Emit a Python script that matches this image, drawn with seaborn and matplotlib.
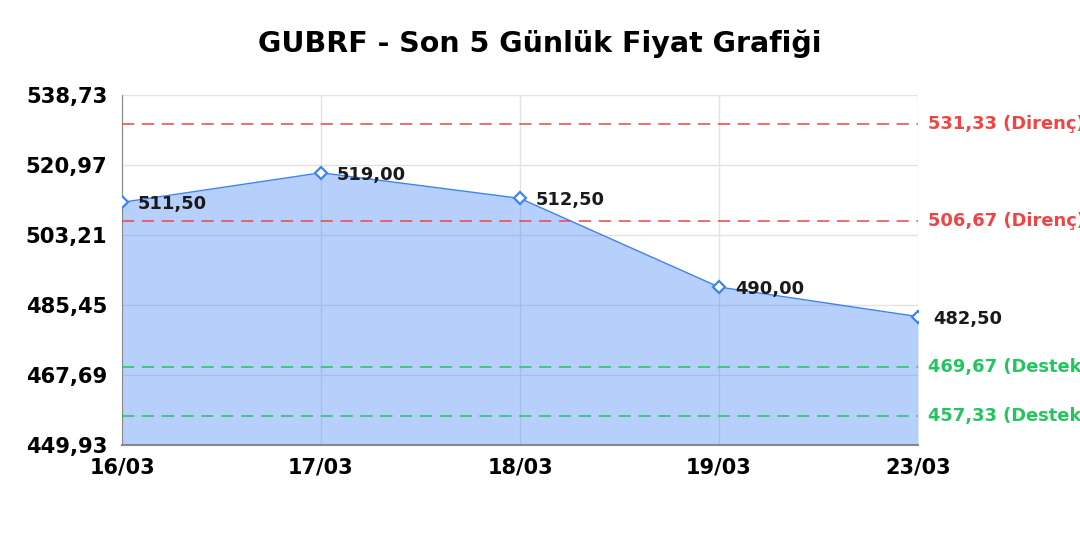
import matplotlib
matplotlib.use("Agg")
import matplotlib.pyplot as plt
import seaborn as sns
import pandas as pd

# price data
dates = ["16/03", "17/03", "18/03", "19/03", "23/03"]
prices = [511.50, 519.00, 512.50, 490.00, 482.50]
resistance = [531.33, 506.67]
support = [469.67, 457.33]
y_ticks = [449.93, 467.69, 485.45, 503.21, 520.97, 538.73]

def tr(v):
    # turkish decimal comma
    return f"{v:.2f}".replace(".", ",")

df = pd.DataFrame({"Tarih": dates, "Fiyat": prices})
df["pos"] = range(len(df))

sns.set_style("white")
plt.rcParams["font.family"] = ["DejaVu Sans"]
plt.rcParams["text.color"] = "black"

fig = plt.figure(figsize=(10.8, 5.4), dpi=100)
ax = fig.add_axes([122 / 1080, 1 - 445 / 540, (918 - 122) / 1080, (445 - 95) / 540])

line_col = "#3b82f6"
ax.fill_between(df["pos"], df["Fiyat"], y_ticks[0], color=line_col, alpha=0.37,
                lw=0, zorder=1)
sns.lineplot(data=df, x="pos", y="Fiyat", ax=ax, color=line_col, linewidth=1.0,
             marker="D", markersize=6, markerfacecolor="white",
             markeredgecolor=line_col, markeredgewidth=1.6, zorder=4)

for x, y in zip(df["pos"], df["Fiyat"]):
    dx = 0.08 if x < len(df) - 1 else 0.075
    ax.text(x + dx, y - 0.5, tr(y), fontsize=12.9, fontweight="bold",
            color="#1a1a1a", va="center", ha="left", zorder=5, clip_on=False)

for lvl in resistance:
    ax.axhline(lvl, color="#ef4444", lw=1.1, dashes=(8, 5), zorder=3)
    ax.text(1.013, lvl, f"{tr(lvl)} (Direnç)", transform=ax.get_yaxis_transform(),
            color="#ef4444", fontsize=12.9, fontweight="bold", va="center", ha="left")
for lvl in support:
    ax.axhline(lvl, color="#22c55e", lw=1.1, dashes=(8, 5), zorder=3)
    ax.text(1.013, lvl, f"{tr(lvl)} (Destek)", transform=ax.get_yaxis_transform(),
            color="#22c55e", fontsize=12.9, fontweight="bold", va="center", ha="left")

ax.set_xlim(0, len(df) - 1)
ax.set_ylim(y_ticks[0], y_ticks[-1])
ax.set_xticks(df["pos"])
ax.set_xticklabels(dates, fontsize=15, fontweight="bold", color="black")
ax.set_yticks(y_ticks)
ax.set_yticklabels([tr(v) for v in y_ticks], fontsize=15.2, fontweight="bold",
                   color="black")
ax.set_xlabel("")
ax.set_ylabel("")
ax.grid(True, color="#e2e2e2", lw=1, zorder=0)
ax.set_axisbelow(True)
ax.tick_params(axis="x", length=0, pad=9)
ax.tick_params(axis="y", length=0, pad=10.5)
for s in ["top", "right"]:
    ax.spines[s].set_visible(False)
ax.spines["left"].set_color("#888888")
ax.spines["bottom"].set_color("#888888")
ax.spines["bottom"].set_linewidth(1.5)

fig.suptitle("GUBRF - Son 5 Günlük Fiyat Grafiği", fontsize=20.5, fontweight="bold",
             x=0.5, y=1 - 44 / 540, va="center", color="black")

fig.savefig("out.png", dpi=100)
